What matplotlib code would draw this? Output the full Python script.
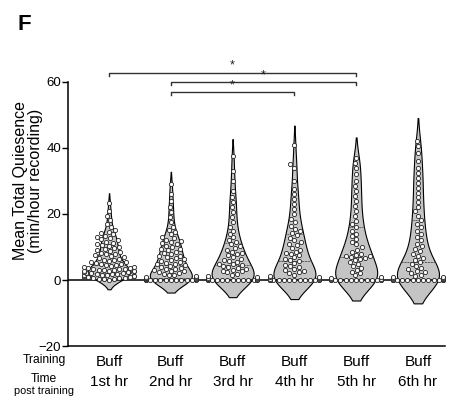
import numpy as np
import pandas as pd
import matplotlib
matplotlib.use("Agg")
import matplotlib.pyplot as plt
import seaborn as sns

groups = ["Buff\n1st hr", "Buff\n2nd hr", "Buff\n3rd hr", "Buff\n4th hr", "Buff\n5th hr", "Buff\n6th hr"]

hr1 = [0.1, 0.2, 0.3, 0.4, 0.5, 0.6, 0.7, 0.8, 0.9, 1.0, 1.1, 1.2, 1.3, 1.4, 1.5, 1.6, 1.7, 1.8,
       1.9, 2.0, 2.1, 2.2, 2.3, 2.4, 2.5, 2.6, 2.7, 2.8, 2.9, 3.0, 3.1, 3.2, 3.3, 3.4, 3.5, 3.6,
       3.8, 4.0, 4.1, 4.3, 4.5, 4.6, 4.8, 5.0, 5.2, 5.4, 5.6, 5.8, 6.0, 6.2, 6.5, 6.8, 7.0, 7.2,
       7.5, 7.8, 8.0, 8.3, 8.6, 8.9, 9.2, 9.5, 9.8, 10.1, 10.4, 10.7, 11.0, 11.3, 11.6, 12.0,
       12.3, 12.6, 13.0, 13.4, 13.8, 14.2, 14.6, 15.2, 16.0, 17.1, 18.3, 19.5, 21.0, 23.4]
hr2 = [0, 0, 0, 0, 0, 0, 0, 0, 0, 0, 0.1, 0.1, 0.2, 0.2, 0.3, 0.3, 0.4, 0.5, 0.6, 0.7, 0.8,
       1.0, 1.2, 1.4, 1.6, 1.8, 2.0, 2.3, 2.6, 2.8, 3.0, 3.3, 3.5, 3.8, 4.0, 4.3, 4.6, 4.8, 5.0,
       5.3, 5.6, 5.8, 6.0, 6.3, 6.6, 7.0, 7.2, 7.4, 7.8, 8.2, 8.6, 9.0, 9.3, 9.5, 10.0, 10.4,
       10.8, 11.2, 11.5, 11.7, 12.1, 12.6, 13.0, 13.8, 14.5, 15.2, 16.0, 17.5, 19.0, 20.5, 22.0,
       24.0, 26.0, 29.0]
hr3 = [0, 0, 0, 0, 0, 0, 0, 0, 0, 0, 0, 0, 0.1, 0.2, 0.3, 0.4, 0.5, 0.7, 0.9, 1.2, 1.5, 1.9,
       2.3, 2.6, 2.8, 3.2, 3.4, 3.6, 4.0, 4.3, 4.5, 4.8, 5.0, 5.4, 5.9, 6.1, 6.4, 7.0, 7.5, 8.0,
       8.3, 8.6, 9.2, 9.8, 10.3, 10.8, 11.5, 12.2, 13.0, 14.0, 15.0, 16.2, 17.5, 19.0, 20.5,
       22.0, 23.5, 25.0, 27.0, 30.0, 33.0, 37.5]
hr4 = [0, 0, 0, 0, 0, 0, 0, 0, 0, 0, 0, 0, 0, 0.1, 0.2, 0.3, 0.5, 0.8, 1.0, 1.2, 1.6, 2.0, 2.5,
       2.8, 3.0, 3.5, 4.0, 4.3, 4.6, 5.2, 5.8, 6.0, 6.3, 6.9, 7.5, 8.0, 8.3, 8.6, 9.2, 9.8, 10.5,
       11.0, 11.6, 12.2, 12.8, 13.5, 14.2, 14.8, 15.5, 16.5, 17.5, 18.5, 20.0, 21.5, 23.0, 24.5,
       26.0, 27.5, 30.0, 34.0, 35.0, 41.0]
hr5 = [0, 0, 0, 0, 0, 0, 0, 0, 0, 0, 0, 0, 0.1, 0.2, 0.4, 0.6, 1.0, 1.5, 2.0, 2.5, 3.0, 3.6,
       4.2, 4.8, 5.4, 6.0, 6.3, 6.6, 7.0, 7.2, 7.4, 7.6, 8.0, 8.6, 9.2, 10.0, 10.8, 11.6, 12.4,
       13.2, 14.0, 15.0, 16.0, 17.0, 18.0, 19.5, 21.0, 22.5, 24.0, 25.5, 27.0, 28.5, 30.0, 32.0,
       34.0, 35.5, 37.0]
hr6 = [0, 0, 0, 0, 0, 0, 0, 0, 0, 0, 0, 0, 0, 0.1, 0.2, 0.3, 0.4, 0.5, 0.6, 0.8, 1.0, 1.3,
       1.6, 2.0, 2.4, 2.8, 3.3, 3.8, 4.4, 5.0, 5.6, 6.2, 6.8, 7.4, 8.0, 8.8, 9.5, 10.2, 11.0,
       12.0, 13.0, 14.0, 15.0, 16.0, 17.0, 18.2, 19.5, 20.8, 22.0, 23.5, 25.0, 26.5, 28.0, 29.5,
       31.0, 32.5, 34.0, 36.0, 38.5, 40.5, 42.0]

# (group a, group b, bracket height)
comparisons = [(0, 4, 62.7), (1, 4, 59.9), (1, 3, 56.9)]

plt.rcParams['font.family'] = ['Liberation Sans', 'DejaVu Sans']

values = [hr1, hr2, hr3, hr4, hr5, hr6]
df = pd.DataFrame({
    "group": np.concatenate([[g] * len(v) for g, v in zip(groups, values)]),
    "val": np.concatenate(values),
})

fig = plt.figure(figsize=(4.51, 4.03), dpi=100)
ax = fig.add_axes([0.151, 0.141, 0.836, 0.656])

sns.violinplot(data=df, x="group", y="val", order=groups, ax=ax, color="#c4c4c4",
               saturation=1, linecolor="black", linewidth=0.8, inner="quart",
               density_norm="width", width=0.68, cut=1.6, bw_adjust=0.8,
               inner_kws=dict(linewidth=0.6, color="#444444"))
sns.swarmplot(data=df, x="group", y="val", order=groups, ax=ax, color="white",
              edgecolor="#222222", linewidth=0.6, size=3.0, zorder=4)

ax.axhline(0, color="black", lw=1.1, zorder=3)

ax.set_xlim(-0.663, 5.44)
ax.set_ylim(-20, 60)
ax.set_yticks([-20, 0, 20, 40, 60])
ax.tick_params(axis="y", length=4, width=1, labelsize=9.5, pad=1)
ax.tick_params(axis="x", length=0, labelsize=11, pad=6)
ax.set_xticks(range(len(groups)))
ax.set_xticklabels(groups, linespacing=1.55)
ax.set_xlabel("")
ax.set_ylabel("Mean Total Quiesence\n(min/hour recording)", fontsize=11.5, linespacing=1.05)
ax.yaxis.set_label_coords(-0.066, 0.625)
for s in ["top", "right"]:
    ax.spines[s].set_visible(False)
ax.spines["left"].set_linewidth(1.1)
ax.spines["bottom"].set_linewidth(1.1)

for a, b, h in comparisons:
    ax.plot([a, a, b, b], [h - 0.8, h, h, h - 0.8], color="#333333", lw=1, clip_on=False)
    ax.text((a + b) / 2, h + 0.3, "*", ha="center", va="bottom", fontsize=9, color="#222222")

fig.text(0.098, 0.099, "Training", ha="center", va="baseline", fontsize=8.7)
fig.text(0.097, 0.052, "Time", ha="center", va="baseline", fontsize=8.7)
fig.text(0.097, 0.022, "post training", ha="center", va="baseline", fontsize=7.8)
fig.text(0.055, 0.94, "F", ha="center", va="center", fontsize=16, fontweight="bold")

fig.savefig("out.png", dpi=100)
